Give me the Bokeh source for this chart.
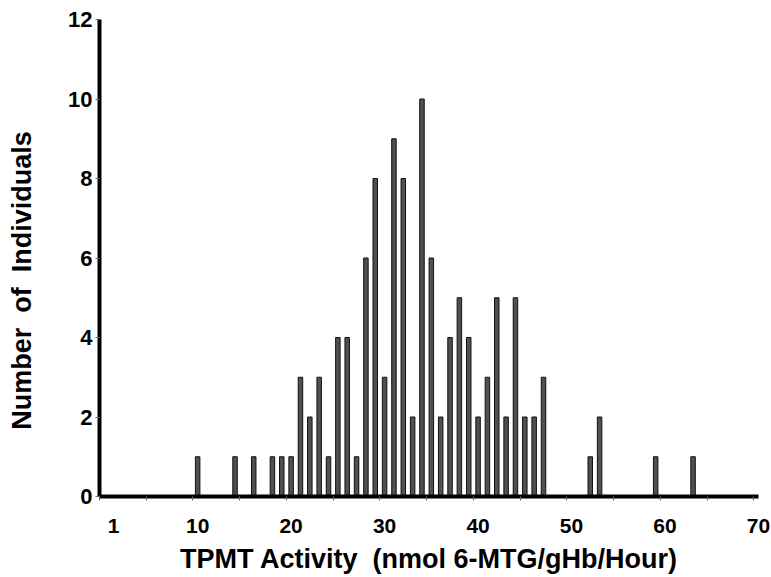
from bokeh.plotting import figure
from bokeh.models import FixedTicker, ColumnDataSource, Range1d
from bokeh.embed import file_html
from bokeh.resources import INLINE

# TPMT activity values (nmol 6-MTG/gHb/Hour) and number of individuals
activity = [10, 14, 16, 18, 19, 20, 21, 22, 23, 24, 25, 26, 27, 28, 29, 30, 31, 32,
            33, 34, 35, 36, 37, 38, 39, 40, 41, 42, 43, 44, 45, 46, 47, 52, 53, 59, 63]
counts = [1, 1, 1, 1, 1, 1, 3, 2, 3, 1, 4, 4, 1, 6, 8, 3, 9, 8,
          2, 10, 6, 2, 4, 5, 4, 2, 3, 5, 2, 5, 2, 2, 3, 1, 2, 1, 1]

x_tick_labels = [1, 10, 20, 30, 40, 50, 60, 70]
x_minor_ticks = [-0.5, 4.5, 9.5, 14.5, 19.5, 24.5, 29.5, 34.5, 39.5, 44.5, 49.5, 54.5, 59.5, 64.5, 69.5]
y_ticks = [0, 2, 4, 6, 8, 10, 12]

FONT = "Liberation Sans"

p = figure(width=770, height=576, output_backend="svg", toolbar_location=None,
           x_range=Range1d(-0.5, 70), y_range=Range1d(0, 12),
           min_border_left=99, min_border_right=12, min_border_top=19, min_border_bottom=80)

src = ColumnDataSource(dict(x=activity, top=counts))
p.vbar(x="x", top="top", bottom=0, width=0.48, source=src,
       fill_color="#505050", line_color="#111111", line_width=1)

p.xgrid.visible = False
p.ygrid.visible = False
p.outline_line_color = None

# x axis
xa = p.xaxis[0]
xa.ticker = FixedTicker(ticks=x_tick_labels, minor_ticks=x_minor_ticks)
xa.axis_line_width = 4
xa.axis_line_color = "black"
xa.major_tick_line_color = None
xa.major_tick_out = 0
xa.major_tick_in = 0
xa.minor_tick_line_color = "#666666"
xa.minor_tick_out = 4
xa.minor_tick_in = 0
xa.major_label_standoff = 18
xa.major_label_text_font = FONT
xa.major_label_text_font_style = "bold"
xa.major_label_text_font_size = "21px"
xa.major_label_text_color = "black"
xa.axis_label = "TPMT Activity\u00a0\u00a0(nmol 6-MTG/gHb/Hour)"
xa.axis_label_text_font = FONT
xa.axis_label_text_font_style = "bold"
xa.axis_label_text_font_size = "27px"
xa.axis_label_text_color = "black"
xa.axis_label_standoff = 8

# y axis
ya = p.yaxis[0]
ya.ticker = FixedTicker(ticks=y_ticks)
ya.axis_line_width = 4
ya.axis_line_color = "black"
ya.major_tick_line_color = "#666666"
ya.major_tick_out = 4
ya.major_tick_in = 0
ya.minor_tick_line_color = None
ya.major_label_standoff = 3
ya.major_label_text_font = FONT
ya.major_label_text_font_style = "bold"
ya.major_label_text_font_size = "22px"
ya.major_label_text_color = "black"
ya.axis_label = "Number\u00a0\u00a0of\u00a0\u00a0Individuals" + "\u00a0" * 6
ya.axis_label_text_font = FONT
ya.axis_label_text_font_style = "bold"
ya.axis_label_text_font_size = "27px"
ya.axis_label_text_color = "black"
ya.axis_label_standoff = 28

open("out.html", "w").write(file_html(p, INLINE))
